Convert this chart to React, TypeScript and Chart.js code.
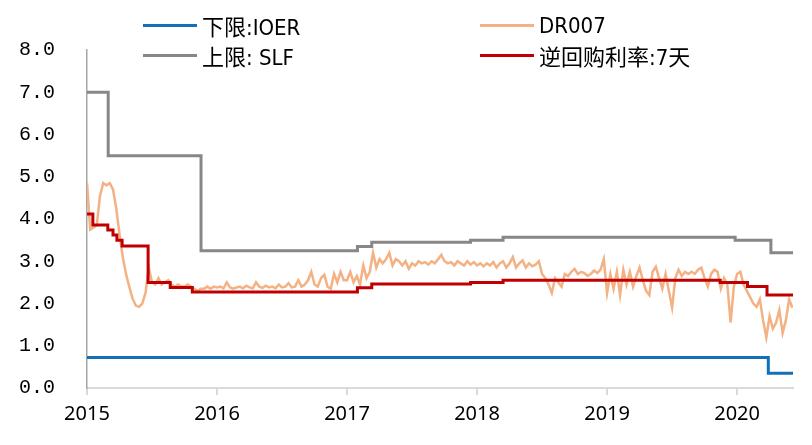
import React, { useEffect, useRef } from "react";
import { Chart, registerables } from "chart.js";

Chart.register(...registerables);

// ---- axis ticks ----
const YEAR_TICKS = [2015, 2016, 2017, 2018, 2019, 2020];
const Y_TICKS = [0, 1, 2, 3, 4, 5, 6, 7, 8];
const X_MIN = 2015;
const X_MAX = 2020.43;

// ---- series names ----
const NAME_IOER = "下限:IOER";
const NAME_DR007 = "DR007";
const NAME_SLF = "上限: SLF";
const NAME_REPO = "逆回购利率:7天";

// ---- stepped series (date where the value starts, value) ----
const IOER_DATES = [2015, 2020.24, 2020.43];
const IOER_VALUES = [0.72, 0.35, 0.35];

const SLF_DATES = [2015, 2015.163, 2015.877, 2017.08, 2017.19, 2017.95, 2018.2, 2019.985, 2020.26, 2020.43];
const SLF_VALUES = [7.0, 5.5, 3.25, 3.35, 3.45, 3.5, 3.57, 3.5, 3.2, 3.2];

const REPO_DATES = [2015, 2015.045, 2015.16, 2015.2, 2015.23, 2015.27, 2015.47, 2015.64, 2015.81, 2017.08, 2017.19, 2017.95, 2018.2, 2019.87, 2020.08, 2020.23, 2020.43];
const REPO_VALUES = [4.12, 3.86, 3.74, 3.62, 3.5, 3.36, 2.5, 2.38, 2.27, 2.37, 2.46, 2.5, 2.55, 2.5, 2.4, 2.2, 2.2];

// ---- DR007 (sampled every DR007_STEP years from DR007_START) ----
const DR007_START = 2015;
const DR007_STEP = 0.025;
const DR007_2015 = [
  4.85, 3.75, 3.8, 3.85, 4.55, 4.85, 4.8, 4.85, 4.7, 4.25,
  3.65, 3.1, 2.7, 2.4, 2.12, 1.95, 1.92, 2.0, 2.25, 2.85,
  2.5, 2.45, 2.6, 2.45, 2.5, 2.55, 2.45, 2.4, 2.45, 2.4,
  2.4, 2.45, 2.4, 2.35, 2.3, 2.35, 2.35, 2.4, 2.35, 2.4,
];
const DR007_2016 = [
  2.38, 2.4, 2.36, 2.5, 2.38, 2.35, 2.38, 2.4, 2.36, 2.42,
  2.38, 2.36, 2.5, 2.4, 2.37, 2.42, 2.38, 2.4, 2.36, 2.45,
  2.38, 2.4, 2.48, 2.38, 2.4, 2.55, 2.4, 2.45, 2.55, 2.75,
  2.45, 2.4, 2.6, 2.68, 2.4, 2.35, 2.7, 2.5, 2.75, 2.55,
];
const DR007_2017 = [
  2.55, 2.75, 2.5, 2.65, 2.45, 2.9, 2.6, 2.75, 3.2, 2.85,
  3.05, 2.95, 3.05, 3.2, 2.9, 3.05, 3.0, 2.9, 3.0, 2.82,
  2.95, 2.9, 3.0, 2.95, 2.98, 2.92, 3.0, 2.95, 3.05, 3.15,
  3.0, 2.95, 2.98, 2.9, 3.0, 2.95, 2.9, 3.0, 2.92, 2.98,
];
const DR007_2018 = [
  2.9, 2.95, 2.88, 2.95, 2.9, 2.98, 2.85, 2.95, 3.0, 2.85,
  2.95, 3.1, 2.85, 2.95, 3.02, 2.85, 2.95, 2.88, 2.92, 3.0,
  2.7, 2.6, 2.45, 2.25, 2.6, 2.5, 2.4, 2.7, 2.65, 2.75,
  2.82, 2.7, 2.75, 2.72, 2.65, 2.7, 2.78, 2.72, 2.8, 3.05,
];
const DR007_2019 = [
  2.25, 2.7, 2.35, 2.75, 2.2, 2.8, 2.45, 2.75, 2.4, 2.65,
  2.85, 2.55, 2.3, 2.2, 2.75, 2.87, 2.6, 2.35, 2.7, 2.3,
  1.9, 2.6, 2.8, 2.65, 2.75, 2.7, 2.75, 2.7, 2.8, 2.85,
  2.6, 2.4, 2.7, 2.8, 2.75, 2.35, 2.6, 2.45, 1.55, 2.4,
];
const DR007_2020 = [
  2.7, 2.75, 2.45, 2.3, 2.15, 2.0, 1.92, 2.1, 1.6, 1.2,
  1.7, 1.4, 1.55, 1.85, 1.3, 1.6, 2.1, 1.9,
];
const DR007_VALUES = [
  ...DR007_2015, ...DR007_2016, ...DR007_2017,
  ...DR007_2018, ...DR007_2019, ...DR007_2020,
];

// ---- colours ----
const COLOR_IOER = "#1170B8";
const COLOR_DR007 = "#F4B183";
const COLOR_SLF = "#878787";
const COLOR_REPO = "#C00000";

const pairs = (xs: number[], ys: number[]) => xs.map((x, i) => ({ x, y: ys[i] }));

function LegendText({ text }: { text: string }) {
  const parts = text.match(/[\u3400-\u9fff]+|[^\u3400-\u9fff]+/g) || [];
  return (
    <span>
      {parts.map((p, i) =>
        /[\u3400-\u9fff]/.test(p) ? (
          <span key={i} style={{ fontFamily: "'Noto Sans CJK SC'", fontSize: 22 }}>{p}</span>
        ) : (
          <span
            key={i}
            style={{
              fontFamily: "'Liberation Sans Narrow', 'DejaVu Sans Condensed', sans-serif",
              fontSize: 22,
              whiteSpace: "pre",
            }}
          >
            {p}
          </span>
        )
      )}
    </span>
  );
}

export default function App() {
  const ref = useRef<HTMLCanvasElement | null>(null);

  useEffect(() => {
    document.body.style.margin = "0";
    const canvas = ref.current;
    if (!canvas) return;
    const dr007 = DR007_VALUES.map((v, i) => ({ x: DR007_START + i * DR007_STEP, y: v }));
    const chart = new Chart(canvas, {
      type: "line",
      data: {
        datasets: [
          {
            label: NAME_REPO,
            data: pairs(REPO_DATES, REPO_VALUES),
            borderColor: COLOR_REPO,
            borderWidth: 3,
            stepped: true,
            order: 0,
          },
          {
            label: NAME_IOER,
            data: pairs(IOER_DATES, IOER_VALUES),
            borderColor: COLOR_IOER,
            borderWidth: 3,
            stepped: true,
            order: 1,
          },
          {
            label: NAME_SLF,
            data: pairs(SLF_DATES, SLF_VALUES),
            borderColor: COLOR_SLF,
            borderWidth: 3,
            stepped: true,
            order: 2,
          },
          {
            label: NAME_DR007,
            data: dr007,
            borderColor: COLOR_DR007,
            borderWidth: 2.5,
            order: 3,
          },
        ],
      },
      options: {
        responsive: false,
        animation: false,
        layout: { padding: { top: 50, left: 0, right: 19, bottom: 0 } },
        plugins: { legend: { display: false }, tooltip: { enabled: false } },
        elements: { point: { radius: 0 }, line: { tension: 0 } },
        scales: {
          x: {
            type: "linear",
            min: X_MIN,
            max: X_MAX,
            afterBuildTicks: (s: any) => {
              s.ticks = YEAR_TICKS.map((v) => ({ value: v }));
            },
            afterFit: (s: any) => {
              s.height = 57;
            },
            grid: {
              display: true,
              drawOnChartArea: false,
              drawTicks: true,
              tickLength: 7,
              color: "#d9d9d9",
              lineWidth: 2,
            },
            border: { display: true, color: "#d9d9d9", width: 2 },
            ticks: {
              padding: 7,
              color: "#000",
              maxRotation: 0,
              autoSkip: false,
              font: { family: "'Noto Sans'", size: 20 },
              callback: (v: any) => String(v),
            },
          },
          y: {
            min: 0,
            max: 8,
            afterBuildTicks: (s: any) => {
              s.ticks = Y_TICKS.map((v) => ({ value: v }));
            },
            afterFit: (s: any) => {
              s.width = 87;
            },
            grid: { display: false, drawTicks: false },
            border: { display: true, color: "#a6a6a6", width: 1.5 },
            ticks: {
              padding: 32,
              color: "#000",
              font: { family: "'Liberation Mono'", size: 20 },
              callback: (v: any) => Number(v).toFixed(1),
            },
          },
        },
      },
    } as any);
    return () => chart.destroy();
  }, []);

  const legend = [
    { name: NAME_IOER, color: COLOR_IOER, left: 143, top: 25 },
    { name: NAME_DR007, color: COLOR_DR007, left: 480, top: 25 },
    { name: NAME_SLF, color: COLOR_SLF, left: 143, top: 55 },
    { name: NAME_REPO, color: COLOR_REPO, left: 480, top: 55 },
  ];

  return (
    <div style={{ position: "relative", width: 812, height: 445, background: "#fff" }}>
      <canvas ref={ref} width={812} height={445} style={{ display: "block", width: 812, height: 445 }} />
      {legend.map((it) => (
        <div
          key={it.name}
          style={{
            position: "absolute",
            left: it.left,
            top: it.top - 15,
            height: 30,
            display: "flex",
            alignItems: "center",
            whiteSpace: "nowrap",
            color: "#000",
          }}
        >
          <span style={{ display: "inline-block", width: 54, height: 3, background: it.color, marginRight: 5 }} />
          <LegendText text={it.name} />
        </div>
      ))}
    </div>
  );
}
